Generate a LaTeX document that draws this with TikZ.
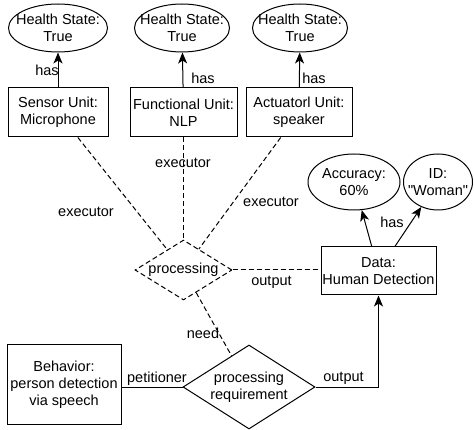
\documentclass[tikz,border=0pt]{standalone}
\usepackage{fontspec}
\setmainfont{Liberation Sans}
\usetikzlibrary{shapes.geometric,arrows.meta}

\newlength{\du}
\setlength{\du}{1\unitlength}
\newcommand{\fitline}[1]{\makebox[0pt][c]{#1}}

\tikzset{
  unitbox/.style={draw, rectangle, inner sep=0pt, align=center},
  stateoval/.style={draw, ellipse, inner sep=0pt, align=center},
  relbox/.style={draw, diamond, inner sep=0pt, align=center},
  haslink/.style={-{Stealth[length=11pt,width=9pt,inset=3pt]}},
  dashlink/.style={dash pattern=on 5\du off 3\du},
  linklabel/.style={inner sep=0pt},
}

\begin{document}
\begin{tikzpicture}[font=\fontsize{14.5}{17}\selectfont, line width=1\du]
\pgftransformxscale{1.000000}
\pgftransformyscale{-1.000000}
\definecolor{dialinecolor}{rgb}{0.000000, 0.000000, 0.000000}
\useasboundingbox (0\du,0\du) rectangle (474\du,430\du);

% health states
\node[stateoval, minimum width=99\du, minimum height=48\du] (sensorstate) at (58\du,28\du) {\fitline{Health State:}\\\fitline{True}};
\node[stateoval, minimum width=95\du, minimum height=48\du] (funcstate) at (182\du,28\du) {\fitline{Health State:}\\\fitline{True}};
\node[stateoval, minimum width=95\du, minimum height=48\du] (actstate) at (300\du,28\du) {\fitline{Health State:}\\\fitline{True}};

% units
\node[unitbox, minimum width=100\du, minimum height=49\du] (sensor) at (58\du,112.5\du) {Sensor Unit:\\Microphone};
\node[unitbox, minimum width=107\du, minimum height=49\du] (func) at (183.5\du,112.5\du) {Functional Unit:\\NLP};
\node[unitbox, minimum width=106\du, minimum height=49\du] (act) at (299\du,112.5\du) {Actuatorl Unit:\\speaker};

% processing and data
\node[relbox, dashlink, minimum width=97\du, minimum height=60\du] (proc) at (183.5\du,270\du) {\fitline{processing}};
\node[unitbox, minimum width=115\du, minimum height=48\du] (data) at (378.5\du,271\du) {Data:\\Human Detection};
\node[stateoval, minimum width=92\du, minimum height=56\du] (accuracy) at (354\du,182\du) {\fitline{Accuracy:}\\\fitline{60\%}};
\node[stateoval, minimum width=69\du, minimum height=56\du] (ident) at (438\du,182\du) {\fitline{ID:}\\\fitline{\textquotedbl Woman\textquotedbl}};

% requirement
\node[unitbox, minimum width=114\du, minimum height=79\du] (behavior) at (64\du,384.5\du) {Behavior:\\person detection\\via speech};
\node[relbox, minimum width=132\du, minimum height=84\du] (req) at (249\du,387\du) {\fitline{processing}\\\fitline{requirement}};

% has
\draw[haslink] (sensor) -- (sensorstate);
\draw[haslink] (func) -- (funcstate);
\draw[haslink] (act) -- (actstate);
\draw[haslink] (data) -- (accuracy);
\draw[haslink] (data) -- (ident);
\node[linklabel] (has1) at (47\du,70\du) {has};
\node[linklabel] (has2) at (203\du,78\du) {has};
\node[linklabel] (has3) at (314\du,78\du) {has};
\node[linklabel] (has4) at (392\du,222\du) {has};

% executor
\draw[dashlink] (sensor) -- (proc);
\draw[dashlink] (func) -- (proc);
\draw[dashlink] (act) -- (proc);
\node[linklabel] (exec1) at (86\du,212\du) {executor};
\node[linklabel] (exec2) at (183\du,163\du) {executor};
\node[linklabel] (exec3) at (271\du,202\du) {executor};

% output, need, petitioner
\draw[dashlink] (proc.east) -- (proc.east -| data.west);
\node[linklabel] (out1) at (271.5\du,282\du) {output};
\draw[dashlink] (proc) -- (req);
\node[linklabel] (need) at (203\du,333\du) {need};
\draw (behavior.east |- req.west) -- (req.west);
\node[linklabel] (petit) at (157\du,379\du) {petitioner};
\draw[haslink] (req.east) -| (data.south);
\node[linklabel] (out2) at (343.5\du,378\du) {output};
\end{tikzpicture}
\end{document}
